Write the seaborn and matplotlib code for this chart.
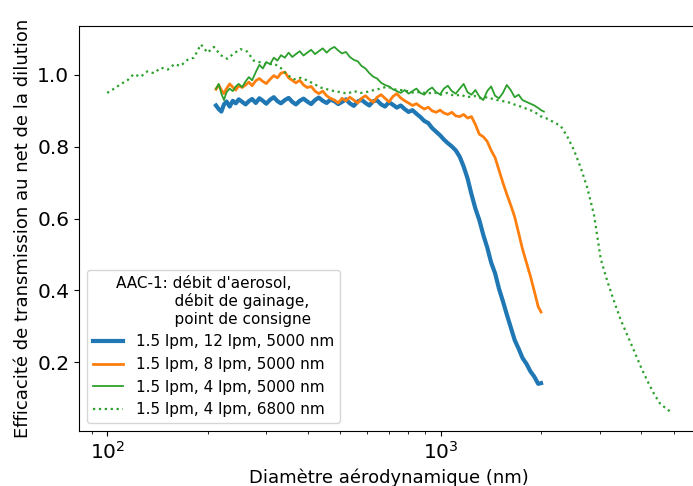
import numpy as np
import pandas as pd
import matplotlib
matplotlib.use("Agg")
import matplotlib.pyplot as plt
import seaborn as sns

# ---------------- data ----------------
x_main = [212, 216, 220, 224, 228, 233, 238, 243, 248, 254, 260, 266, 272, 279, 286, 293,
          300, 308, 316, 324, 332, 341, 350, 359, 368, 378, 388, 398, 409, 420, 431, 443,
          455, 467, 480, 493, 506, 520, 534, 549, 564, 579, 595, 611, 628, 645, 663, 681,
          700, 719, 739, 759, 780, 801, 823, 846, 869, 893, 918, 943, 969, 996, 1023, 1051,
          1080, 1110, 1141, 1172, 1204, 1237, 1271, 1306, 1342, 1379, 1417, 1456, 1496, 1537,
          1579, 1622, 1667, 1713, 1760, 1808, 1858, 1909, 1961, 2000]

y_12lpm = [0.915, 0.905, 0.898, 0.918, 0.926, 0.912, 0.928, 0.921, 0.932, 0.925, 0.918, 0.927,
           0.933, 0.922, 0.935, 0.928, 0.920, 0.931, 0.938, 0.927, 0.921, 0.930, 0.936, 0.925,
           0.918, 0.928, 0.934, 0.926, 0.919, 0.930, 0.937, 0.928, 0.922, 0.931, 0.927, 0.919,
           0.925, 0.932, 0.921, 0.914, 0.926, 0.931, 0.922, 0.915, 0.927, 0.929, 0.918, 0.912,
           0.924, 0.917, 0.909, 0.915, 0.905, 0.897, 0.902, 0.892, 0.883, 0.872, 0.866, 0.852,
           0.842, 0.832, 0.820, 0.810, 0.801, 0.790, 0.772, 0.745, 0.712, 0.668, 0.628, 0.596,
           0.555, 0.520, 0.478, 0.448, 0.405, 0.370, 0.333, 0.298, 0.262, 0.238, 0.212, 0.196,
           0.175, 0.160, 0.140, 0.142]

y_8lpm = [0.960, 0.972, 0.958, 0.948, 0.962, 0.975, 0.966, 0.958, 0.970, 0.965, 0.972, 0.980,
          0.970, 0.984, 0.990, 0.982, 0.976, 0.988, 0.998, 0.992, 1.005, 1.008, 0.992, 0.985,
          0.978, 0.985, 0.972, 0.965, 0.968, 0.955, 0.948, 0.955, 0.942, 0.935, 0.930, 0.922,
          0.935, 0.928, 0.938, 0.930, 0.922, 0.935, 0.942, 0.932, 0.924, 0.938, 0.945, 0.935,
          0.925, 0.940, 0.948, 0.936, 0.928, 0.922, 0.915, 0.920, 0.912, 0.905, 0.910, 0.900,
          0.896, 0.902, 0.894, 0.890, 0.896, 0.886, 0.884, 0.890, 0.880, 0.884, 0.862, 0.835,
          0.828, 0.815, 0.790, 0.770, 0.735, 0.700, 0.668, 0.638, 0.605, 0.560, 0.515, 0.478,
          0.440, 0.398, 0.355, 0.340]

x_4lpm = x_main + [2040]
y_4lpm = [0.962, 0.975, 0.948, 0.930, 0.952, 0.962, 0.955, 0.968, 0.975, 0.966, 0.982, 0.994,
          0.985, 1.008, 1.028, 1.018, 1.036, 1.030, 1.048, 1.040, 1.055, 1.048, 1.062, 1.050,
          1.058, 1.066, 1.054, 1.062, 1.070, 1.058, 1.066, 1.074, 1.062, 1.072, 1.078, 1.068,
          1.060, 1.064, 1.050, 1.042, 1.038, 1.025, 1.018, 1.005, 0.995, 0.990, 0.978, 0.972,
          0.968, 0.960, 0.955, 0.950, 0.958, 0.948, 0.955, 0.962, 0.950, 0.945, 0.958, 0.965,
          0.952, 0.946, 0.962, 0.970, 0.955, 0.948, 0.962, 0.975, 0.952, 0.945, 0.958, 0.940,
          0.930, 0.955, 0.968, 0.942, 0.935, 0.950, 0.972, 0.958, 0.938, 0.945, 0.930, 0.925,
          0.920, 0.915, 0.908, 0.902, 0.898]

x_6800 = [100, 105, 110, 115, 120, 126, 132, 138, 145, 152, 159, 166, 174, 182, 191, 200, 209,
          219, 229, 240, 251, 263, 275, 288, 302, 316, 331, 347, 363, 380, 398, 417, 437, 457,
          479, 501, 525, 550, 575, 603, 631, 661, 692, 724, 759, 794, 832, 871, 912, 955, 1000,
          1047, 1096, 1148, 1202, 1259, 1318, 1380, 1445, 1514, 1585, 1660, 1738, 1820, 1905,
          1995, 2089, 2188, 2291, 2399, 2512, 2630, 2754, 2884, 3020, 3162, 3311, 3467, 3631,
          3802, 3981, 4169, 4365, 4571, 4786, 4900]
y_6800 = [0.950, 0.962, 0.975, 0.985, 1.002, 0.995, 1.010, 1.005, 1.020, 1.015, 1.030, 1.025,
          1.042, 1.048, 1.085, 1.062, 1.078, 1.055, 1.045, 1.060, 1.072, 1.065, 1.040, 1.035,
          1.028, 1.032, 1.020, 1.000, 0.988, 0.992, 0.985, 0.975, 0.965, 0.960, 0.955, 0.952,
          0.948, 0.955, 0.950, 0.953, 0.958, 0.962, 0.968, 0.960, 0.958, 0.955, 0.950, 0.953,
          0.948, 0.952, 0.945, 0.950, 0.942, 0.945, 0.938, 0.942, 0.935, 0.938, 0.932, 0.928,
          0.925, 0.918, 0.912, 0.905, 0.898, 0.885, 0.878, 0.868, 0.858, 0.828, 0.790, 0.742,
          0.685, 0.610, 0.488, 0.425, 0.370, 0.318, 0.275, 0.232, 0.188, 0.148, 0.112, 0.082,
          0.070, 0.060]

labels = ["1.5 lpm, 12 lpm, 5000 nm", "1.5 lpm, 8 lpm, 5000 nm",
          "1.5 lpm, 4 lpm, 5000 nm", "1.5 lpm, 4 lpm, 6800 nm"]
legend_title = ("AAC-1: débit d'aerosol,\n"
                "            débit de gainage,\n"
                "            point de consigne")
xlabel = "Diamètre aérodynamique (nm)"
ylabel = "Efficacité de transmission au net de la dilution"

# ---------------- plot ----------------
plt.rcParams['font.family'] = ['DejaVu Sans']
fig = plt.figure(figsize=(6.93, 4.86), dpi=100)
ax = fig.add_axes([79 / 693, 1 - 431 / 486, (699 - 79) / 693, (431 - 26) / 486])

series = [
    (x_main, y_12lpm, labels[0], "#1f77b4", 3.0, "-"),
    (x_main, y_8lpm, labels[1], "#ff7f0e", 2.0, "-"),
    (x_4lpm, y_4lpm, labels[2], "#2ca02c", 1.3, "-"),
    (x_6800, y_6800, labels[3], "#2ca02c", 1.6, ":"),
]
for xs, ys, lab, col, lw, ls in series:
    df = pd.DataFrame({"x": xs, "y": ys})
    sns.lineplot(data=df, x="x", y="y", ax=ax, color=col, linewidth=lw,
                 linestyle=ls, label=lab, estimator=None, sort=False)

ax.set_xscale("log")
ax.set_xlabel(xlabel, fontsize=13)
ax.set_ylabel(ylabel, fontsize=13)
ax.tick_params(axis="both", labelsize=14.5)
ax.set_yticks([0.2, 0.4, 0.6, 0.8, 1.0])
ax.legend(title=legend_title, loc="lower left", fontsize=11, title_fontsize=11)

fig.savefig("out.png", dpi=100)
